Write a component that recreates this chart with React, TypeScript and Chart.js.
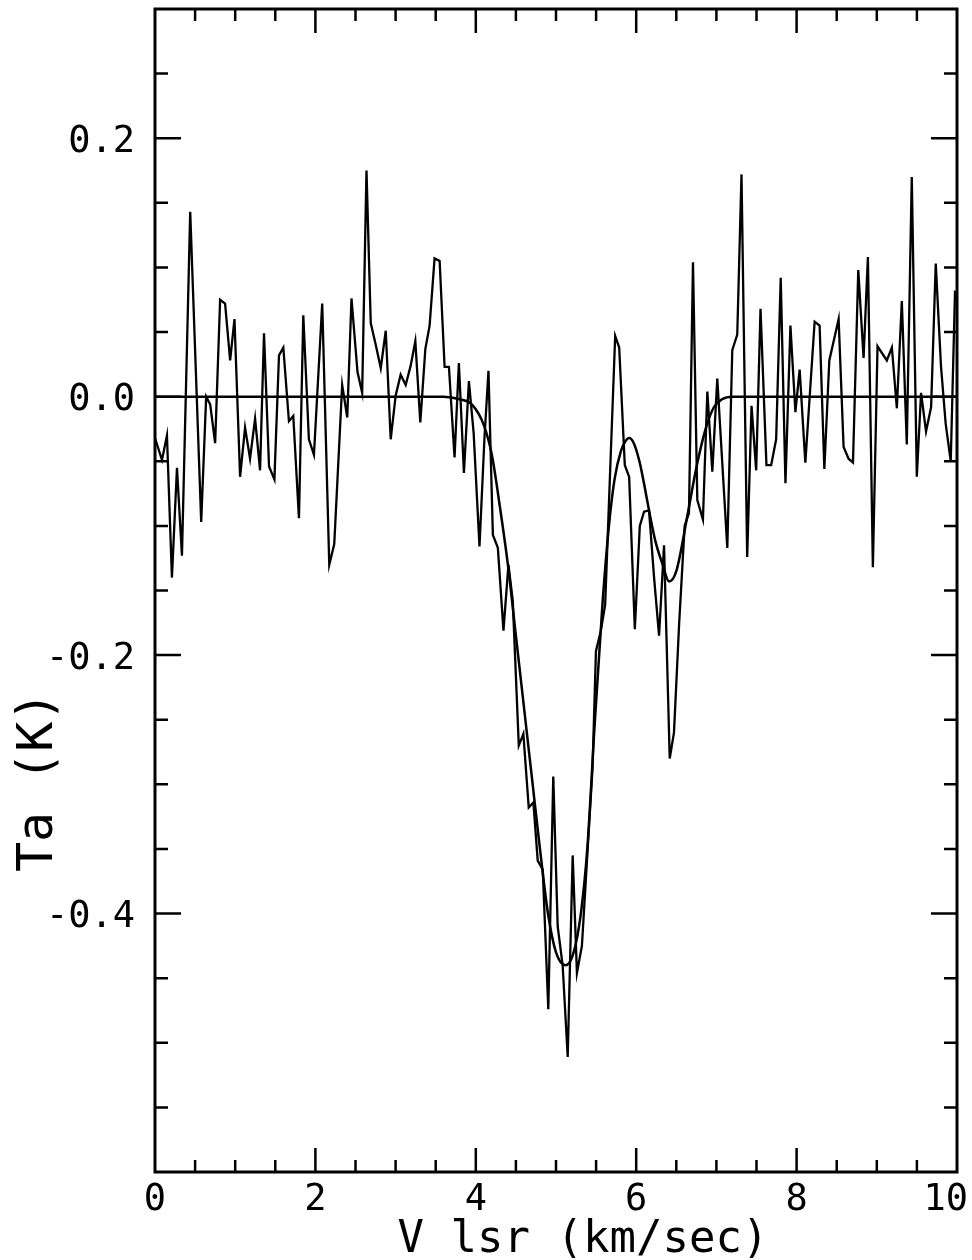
import React, { useEffect, useRef } from "react";
import { Chart, registerables } from "chart.js";

Chart.register(...registerables);

const W = 972;
const H = 1260;

// Observed spectrum: LSR velocity (km/s) and antenna temperature (K)
const velocity = [
  0.000, 0.087, 0.149, 0.211, 0.274, 0.336, 0.439, 0.576, 0.638, 0.688,
  0.750, 0.812, 0.874, 0.937, 0.991, 1.061, 1.123, 1.185, 1.248, 1.310, 1.359,
  1.422, 1.489, 1.546, 1.600, 1.670, 1.724, 1.795, 1.849, 1.919, 1.982,
  2.085, 2.173, 2.235, 2.334, 2.397, 2.450, 2.525, 2.583, 2.637,
  2.690, 2.753, 2.815, 2.877, 2.939, 3.001, 3.063, 3.126, 3.188, 3.246,
  3.308, 3.371, 3.424, 3.486, 3.549, 3.611, 3.665, 3.735, 3.789, 3.852, 3.914, 3.973,
  4.046, 4.108, 4.158, 4.213, 4.275, 4.345, 4.407, 4.461, 4.536, 4.593,
  4.660, 4.718, 4.772, 4.835, 4.904, 4.966, 5.021, 5.083, 5.146, 5.208,
  5.261, 5.323, 5.394, 5.456, 5.498, 5.560, 5.613, 5.738, 5.788, 5.858,
  5.912, 5.983, 6.045, 6.098, 6.160, 6.223, 6.285, 6.347, 6.418, 6.471,
  6.536, 6.604, 6.658, 6.708, 6.762, 6.832, 6.887, 6.949, 7.011, 7.136,
  7.198, 7.260, 7.313, 7.384, 7.438, 7.496, 7.550,
  7.624, 7.683, 7.745, 7.802, 7.861, 7.923, 7.985, 8.038, 8.109, 8.225,
  8.287, 8.346, 8.408, 8.524, 8.586, 8.648, 8.703, 8.769, 8.835, 8.889,
  8.951, 9.009, 9.125, 9.188, 9.250, 9.312, 9.374, 9.436, 9.499, 9.552,
  9.614, 9.677, 9.735, 9.801, 9.859, 9.922, 9.975, 10.000,
];

const ta = [
  -0.032, -0.049, -0.030, -0.140, -0.055, -0.123, 0.143, -0.097, 0.000, -0.006,
  -0.036, 0.075, 0.072, 0.028, 0.060, -0.062, -0.024, -0.048, -0.017, -0.057, 0.049,
  -0.054, -0.064, 0.032, 0.038, -0.019, -0.015, -0.094, 0.063, -0.033, -0.045,
  0.072, -0.130, -0.114, 0.009, -0.016, 0.076, 0.019, 0.003, 0.175,
  0.057, 0.040, 0.022, 0.051, -0.033, 0.001, 0.017, 0.009, 0.024, 0.043,
  -0.020, 0.037, 0.055, 0.107, 0.105, 0.023, 0.023, -0.047, 0.026, -0.059, 0.012, -0.028,
  -0.116, -0.032, 0.020, -0.107, -0.117, -0.181, -0.130, -0.158, -0.270, -0.261,
  -0.318, -0.314, -0.359, -0.366, -0.474, -0.294, -0.410, -0.440, -0.511, -0.355,
  -0.446, -0.425, -0.351, -0.287, -0.197, -0.181, -0.161, 0.047, 0.038, -0.053,
  -0.062, -0.180, -0.100, -0.089, -0.088, -0.140, -0.185, -0.115, -0.280, -0.260,
  -0.175, -0.100, -0.090, 0.104, -0.080, -0.095, 0.004, -0.058, 0.014, -0.117,
  0.036, 0.048, 0.172, -0.124, -0.007, -0.057, 0.068,
  -0.053, -0.053, -0.033, 0.092, -0.067, 0.055, -0.012, 0.021, -0.051, 0.058,
  0.055, -0.056, 0.028, 0.060, -0.039, -0.048, -0.051, 0.098, 0.030, 0.108,
  -0.132, 0.039, 0.028, 0.038, -0.009, 0.074, -0.037, 0.170, -0.062, 0.003,
  -0.027, -0.008, 0.103, 0.023, -0.021, -0.050, 0.081, 0.080,
];

// Fitted profile (smooth curve)
const fitVelocity = [
  0, 3.6, 3.8, 3.95, 4.1, 4.2, 4.3, 4.4, 4.5, 4.6, 4.7, 4.8, 4.9, 5.0, 5.12,
  5.22, 5.31, 5.39, 5.48, 5.58, 5.66, 5.73, 5.81, 5.87, 5.91, 5.97, 6.04, 6.1,
  6.16, 6.24, 6.33, 6.41, 6.5, 6.65, 6.75, 6.87, 6.97, 7.07, 7.2, 10,
];
const fitTa = [
  0, 0, -0.002, -0.006, -0.022, -0.045, -0.085, -0.13, -0.185, -0.24, -0.295,
  -0.35, -0.4, -0.43, -0.44, -0.43, -0.4, -0.35, -0.256, -0.16, -0.1, -0.064,
  -0.042, -0.034, -0.032, -0.036, -0.05, -0.068, -0.088, -0.112, -0.13, -0.143,
  -0.135, -0.088, -0.055, -0.024, -0.008, -0.002, 0, 0,
];

const X_MIN = 0;
const X_MAX = 10;
const Y_MIN = -0.6;
const Y_MAX = 0.3;
const xMinorStep = 0.5;
const yMinorStep = 0.05;
const xMajorTicks = [0, 2, 4, 6, 8, 10];
const xTickLabels = ["0", "2", "4", "6", "8", "10"];
const yMajorTicks = [0.2, 0.0, -0.2, -0.4];
const yTickLabels = ["0.2", "0.0", "-0.2", "-0.4"];
const xTitle = "V lsr (km/sec)";
const yTitle = "Ta (K)";

const FONT = '"DejaVu Sans Mono", "Liberation Mono", monospace';

const framePlugin = {
  id: "frameTicks",
  afterDraw(chart: any) {
    const { ctx, chartArea: a } = chart;
    const xs = chart.scales.x;
    const ys = chart.scales.y;
    ctx.save();
    ctx.strokeStyle = "#000";
    ctx.fillStyle = "#000";
    ctx.lineCap = "butt";

    // ticks (inward, all four sides)
    ctx.lineWidth = 2.5;
    const nx = Math.round((X_MAX - X_MIN) / xMinorStep);
    for (let i = 1; i < nx; i++) {
      const v = X_MIN + i * xMinorStep;
      const px = xs.getPixelForValue(v);
      const major = xMajorTicks.some((m) => Math.abs(m - v) < 1e-6);
      const len = major ? 24 : 12;
      ctx.beginPath();
      ctx.moveTo(px, a.bottom);
      ctx.lineTo(px, a.bottom - len);
      ctx.moveTo(px, a.top);
      ctx.lineTo(px, a.top + len);
      ctx.stroke();
    }
    const ny = Math.round((Y_MAX - Y_MIN) / yMinorStep);
    for (let i = 1; i < ny; i++) {
      const v = Y_MIN + i * yMinorStep;
      const py = ys.getPixelForValue(v);
      const major = yMajorTicks.some((m) => Math.abs(m - v) < 1e-6);
      const len = major ? 26 : 13;
      ctx.beginPath();
      ctx.moveTo(a.left, py);
      ctx.lineTo(a.left + len, py);
      ctx.moveTo(a.right, py);
      ctx.lineTo(a.right - len, py);
      ctx.stroke();
    }

    // frame
    ctx.lineWidth = 3;
    ctx.strokeRect(a.left, a.top, a.right - a.left, a.bottom - a.top);

    // tick labels
    ctx.font = `37px ${FONT}`;
    ctx.textBaseline = "alphabetic";
    ctx.textAlign = "right";
    yMajorTicks.forEach((v, i) => {
      const py = ys.getPixelForValue(v);
      ctx.fillText(yTickLabels[i], a.left - 20, py + 13.5);
    });
    ctx.textAlign = "center";
    xMajorTicks.forEach((v, i) => {
      let px = xs.getPixelForValue(v);
      const w = ctx.measureText(xTickLabels[i]).width;
      if (px + w / 2 > W - 4) px = W - 4 - w / 2;
      ctx.fillText(xTickLabels[i], px, a.bottom + 38);
    });

    // axis titles
    ctx.font = `44px ${FONT}`;
    ctx.textAlign = "center";
    ctx.fillText(xTitle, (a.left + a.right) / 2 + 27, 1252);

    ctx.font = `50px ${FONT}`;
    ctx.translate(52, ys.getPixelForValue(-0.298));
    ctx.rotate(-Math.PI / 2);
    ctx.textAlign = "center";
    ctx.fillText(yTitle, 0, 0);
    ctx.restore();
  },
};

export default function App() {
  const canvasRef = useRef<HTMLCanvasElement | null>(null);

  useEffect(() => {
    const canvas = canvasRef.current;
    if (!canvas) return;
    const chart = new Chart(canvas, {
      type: "line",
      data: {
        datasets: [
          {
            label: "spectrum",
            data: velocity.map((v, i) => ({ x: v, y: ta[i] })),
            borderColor: "#000",
            borderWidth: 2.3,
            pointRadius: 0,
            tension: 0,
            fill: false,
          },
          {
            label: "fit",
            data: fitVelocity.map((v, i) => ({ x: v, y: fitTa[i] })),
            borderColor: "#000",
            borderWidth: 2.5,
            pointRadius: 0,
            cubicInterpolationMode: "monotone",
            fill: false,
          },
        ],
      },
      options: {
        responsive: false,
        maintainAspectRatio: false,
        animation: false,
        devicePixelRatio: 1,
        layout: { padding: { left: 155, right: 15, top: 9, bottom: 88 } },
        plugins: {
          legend: { display: false },
          tooltip: { enabled: false },
        },
        scales: {
          x: { type: "linear", min: X_MIN, max: X_MAX, display: false },
          y: { type: "linear", min: Y_MIN, max: Y_MAX, display: false },
        },
      },
      plugins: [framePlugin],
    });
    return () => chart.destroy();
  }, []);

  return (
    <div
      style={{
        position: "absolute",
        left: 0,
        top: 0,
        width: W,
        height: H,
        background: "#fff",
      }}
    >
      <canvas
        ref={canvasRef}
        width={W}
        height={H}
        style={{ width: W, height: H, display: "block" }}
      />
    </div>
  );
}
